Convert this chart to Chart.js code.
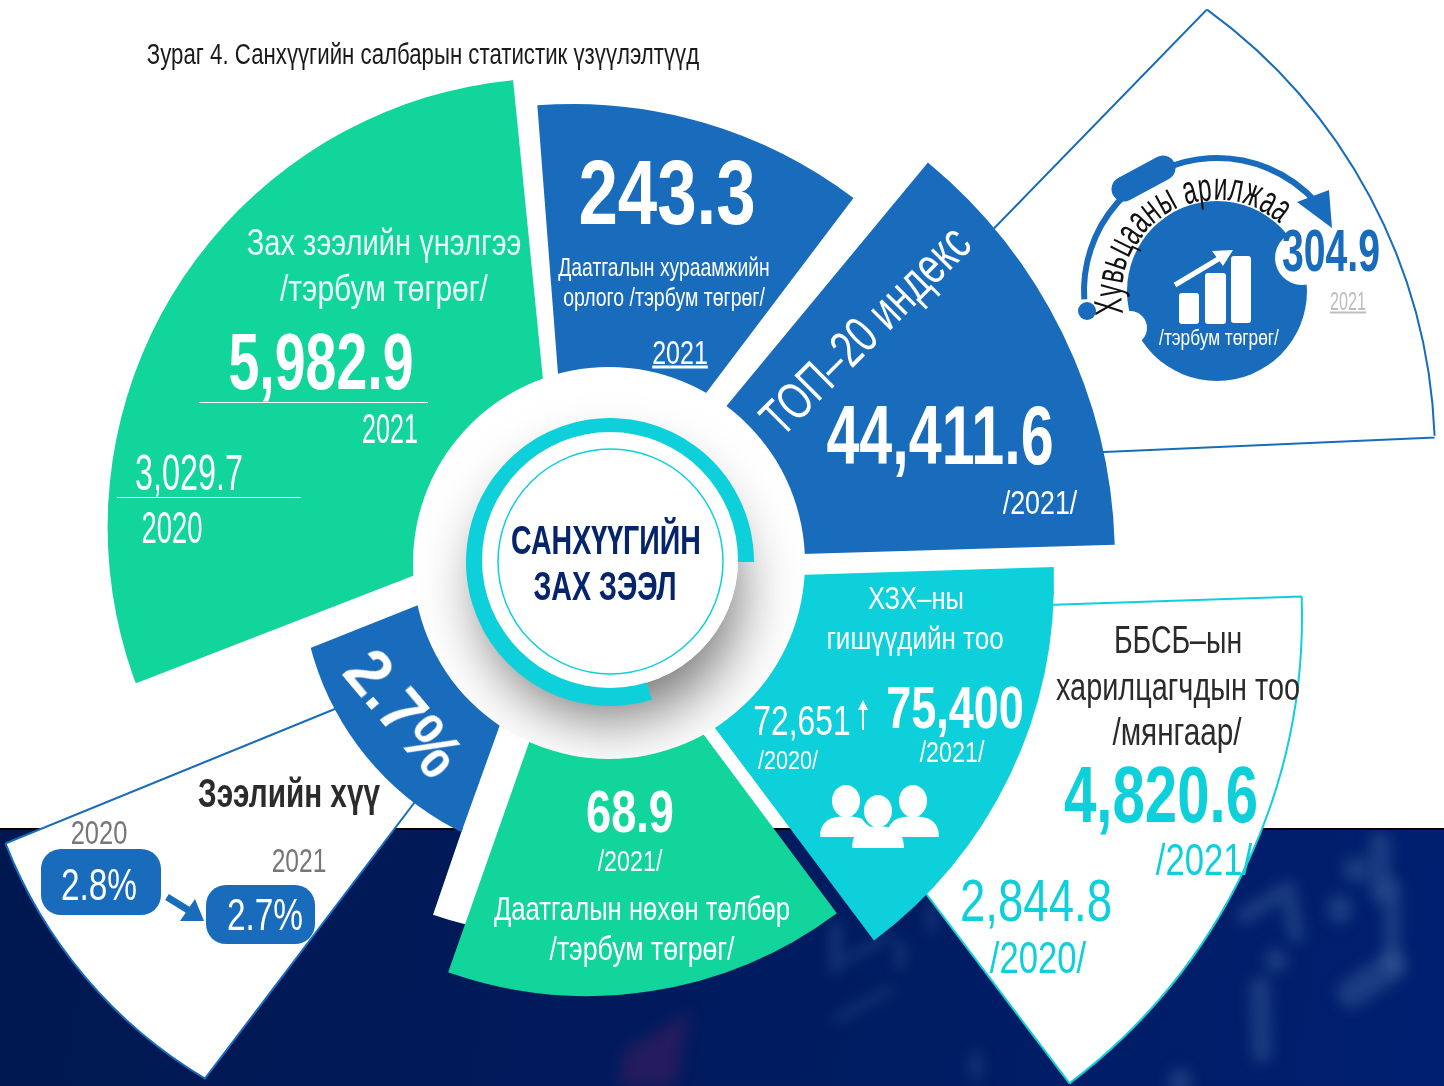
<!DOCTYPE html>
<html>
<head>
<meta charset="utf-8">
<script src="https://cdn.jsdelivr.net/npm/chart.js@4"></script>
<style>
  body { margin: 0; background: #fff; }
  #stage { position: relative; width: 1444px; height: 1086px; overflow: hidden; }
  #graphicsChart { position: absolute; left: 0; top: 0; }
  #labels span { position: absolute; white-space: nowrap; line-height: 1; }
</style>
</head>
<body>
<div id="stage">
  <canvas id="graphicsChart" width="1444" height="1086"></canvas>
  <div id="labels"></div>
</div>
<script>
// wedges, back to front. reach = radial value, start/sweep = degrees clockwise from north
const categories = ["gap", "loan rate", "trading", "NBFI clients", "market cap", "premium", "TOP-20", "members", "claims", "rate", "hub", "halo", "ring", "face", "trade disc", "bite a", "bite b"];
const wedgeReach = [392, 620, 760, 586, 480, 465, 516, 449, 418, 330, 196, 128, 144, 128, 90, 27, 17];
const wedgeStart = [160, 217.2, 44.2, 88.1, 248.8, 355.6, 39.6, 88.2, 143.3, 199.8, 0.001, 0.001, 163, 0.001, 0.001, 0.001, 0.001];
const wedgeSweep = [38.9, 30.6, 43.3, 54.8, 105.5, 41.5, 48.7, 55, 56.1, 48.5, 360, 360, 287, 360, 360, 360, 360];

const years = ["2020", "2021"];
const marketCap = ["3,029.7", "5,982.9"];
const premium = "243.3";
const top20 = "44,411.6";
const members = ["72,651", "75,400"];
const clients = ["2,844.8", "4,820.6"];
const claims = "68.9";
const loanRate = ["2.8%", "2.7%"];
const trading = "304.9";

const GREEN = "#11d59b", BLUE = "#196cbc", CYAN = "#0ed0da", NAVY = "#001b5e";

const wedgeLook = [
  { apex: [560, 544], fill: "#fff" },
  { apex: [553, 620], fill: "#fff", line: BLUE, trim: [447, 671, 474], rim: [120.6, 158.7] },
  { apex: [762, 467], fill: "#fff", line: BLUE, trim: [882, 457, 553], rim: [-54, -2.2] },
  { apex: [716, 616], fill: "#fff", line: CYAN },
  { apex: [557, 520], fill: GREEN, trim: [556.6, 527, 449] },
  { apex: [573, 569], fill: BLUE },
  { apex: [599, 560], fill: BLUE },
  { apex: [605, 581], fill: CYAN },
  { apex: [587, 578], fill: GREEN },
  { apex: [564, 547], fill: BLUE, trim: [589, 574, 288] },
  { apex: [609, 563], fill: "#fff" },
  { apex: [610, 560], fill: "#fff", shadow: true },
  { apex: [610, 562], fill: CYAN },
  { apex: [610, 560], fill: "#fff" },
  { apex: [1217, 291], fill: BLUE },
  { apex: [1302, 258], fill: "#fff" },
  { apex: [1130, 328], fill: "#fff" },
];

const wedgeHooks = {
  id: "wedgeHooks",
  beforeDatasetDraw(chart, args) {
    const look = wedgeLook[args.index], ctx = chart.ctx;
    ctx.save();
    if (look.trim) {
      ctx.beginPath();
      ctx.arc(look.trim[0], look.trim[1], look.trim[2], 0, Math.PI * 2);
      ctx.clip();
    }
    if (look.shadow) {
      ctx.beginPath();
      ctx.arc(609, 563, 196, 0, Math.PI * 2);
      ctx.clip();
      ctx.shadowColor = "rgba(0,0,0,0.55)";
      ctx.shadowBlur = 60;
      ctx.shadowOffsetY = 30;
    }
    ctx.translate(look.apex[0] - 722, look.apex[1] - 543);
  },
  afterDatasetDraw(chart, args) {
    const look = wedgeLook[args.index], ctx = chart.ctx;
    ctx.restore();
    if (look.rim) {
      ctx.strokeStyle = look.line;
      ctx.lineWidth = 2;
      ctx.beginPath();
      ctx.arc(look.trim[0], look.trim[1], look.trim[2], look.rim[0] * Math.PI / 180, look.rim[1] * Math.PI / 180);
      ctx.stroke();
    }
  },
};

// faint out of focus price chart behind the lower band: [width, x1, y1, x2, y2, ...]
const haze = [
  [22, 1380, 842, 1380, 893], [26, 1356, 869, 1356, 870], [24, 1340, 906, 1340, 912],
  [16, 1244, 916, 1288, 889, 1296, 936], [22, 1276, 959, 1276, 962], [20, 1260, 986, 1262, 1053],
  [18, 1392, 886, 1392, 966], [30, 1392, 966, 1352, 993], [22, 1180, 1079, 1180, 1086],
  [10, 836, 926, 836, 969], [7, 848, 959, 888, 936], [8, 900, 943, 900, 966],
  [6, 836, 1019, 892, 989], [8, 932, 906, 932, 929], [9, 976, 1056, 976, 1076],
];

const backdrop = {
  id: "backdrop",
  beforeDatasetsDraw(chart) {
    const ctx = chart.ctx;
    ctx.save();
    ctx.fillStyle = "#fff";
    ctx.fillRect(0, 0, 1444, 1086);
    const band = ctx.createLinearGradient(0, 830, 1444, 1086);
    band.addColorStop(0, "#001850");
    band.addColorStop(0.5, NAVY);
    band.addColorStop(1, "#001f70");
    ctx.fillStyle = band;
    ctx.fillRect(0, 829, 1444, 257);
    ctx.fillStyle = "#000";
    ctx.fillRect(0, 828, 1444, 2);
    ctx.beginPath();
    ctx.rect(0, 830, 1444, 256);
    ctx.clip();
    ctx.filter = "blur(7px)";
    ctx.strokeStyle = "rgba(75,115,165,0.36)";
    ctx.lineCap = "round";
    ctx.lineJoin = "round";
    haze.forEach(h => {
      ctx.lineWidth = h[0];
      ctx.beginPath();
      ctx.moveTo(h[1], h[2]);
      for (let i = 3; i < h.length; i += 2) ctx.lineTo(h[i], h[i + 1]);
      ctx.stroke();
    });
    ctx.fillStyle = "rgba(42,28,94,0.85)";
    ctx.beginPath();
    ctx.moveTo(690, 1012);
    ctx.lineTo(675, 1086);
    ctx.lineTo(618, 1086);
    ctx.lineTo(625, 1050);
    ctx.closePath();
    ctx.fill();
    ctx.restore();
  },
};

const decor = {
  id: "decor",
  afterDatasetsDraw(chart) {
    const ctx = chart.ctx;
    ctx.save();
    // rules under the market cap figures
    ctx.strokeStyle = "#fff";
    ctx.lineWidth = 1;
    ctx.beginPath();
    ctx.moveTo(199, 402.5); ctx.lineTo(428, 402.5);
    ctx.moveTo(117, 497.5); ctx.lineTo(301, 497.5);
    ctx.stroke();

    // thin circle round the title
    ctx.strokeStyle = CYAN;
    ctx.lineWidth = 1.5;
    ctx.beginPath();
    ctx.arc(610.5, 561.5, 112.5, 0, Math.PI * 2);
    ctx.stroke();

    // trading arc, dot, pill, arrow head
    ctx.strokeStyle = BLUE;
    ctx.fillStyle = BLUE;
    ctx.lineWidth = 6;
    ctx.beginPath();
    ctx.arc(1217, 291, 133, Math.PI * 0.98, Math.PI * 1.77);
    ctx.stroke();
    ctx.beginPath();
    ctx.arc(1087, 311, 9, 0, Math.PI * 2);
    ctx.fill();
    ctx.lineCap = "round";
    ctx.lineWidth = 25;
    ctx.beginPath();
    ctx.moveTo(1124, 189); ctx.lineTo(1163, 168);
    ctx.stroke();
    ctx.lineCap = "butt";
    ctx.beginPath();
    ctx.moveTo(1297, 202); ctx.lineTo(1329, 190); ctx.lineTo(1332, 228);
    ctx.closePath();
    ctx.fill();

    // bars icon
    ctx.fillStyle = "#fff";
    [[1179, 293, 20, 31], [1205, 273, 21, 51], [1231, 256, 20, 67]].forEach(b => {
      ctx.beginPath();
      ctx.roundRect(b[0], b[1], b[2], b[3], 3);
      ctx.fill();
    });
    ctx.strokeStyle = "#fff";
    ctx.lineWidth = 5;
    ctx.beginPath();
    ctx.moveTo(1175, 285); ctx.lineTo(1225, 255);
    ctx.stroke();
    ctx.beginPath();
    ctx.moveTo(1233, 250); ctx.lineTo(1212, 251); ctx.lineTo(1223, 266);
    ctx.closePath();
    ctx.fill();

    // rate pills and arrow
    ctx.fillStyle = BLUE;
    ctx.beginPath();
    ctx.roundRect(41, 849, 120, 66, 20);
    ctx.fill();
    ctx.beginPath();
    ctx.roundRect(206, 885, 109, 59, 20);
    ctx.fill();
    ctx.strokeStyle = BLUE;
    ctx.lineWidth = 7;
    ctx.beginPath();
    ctx.moveTo(167, 897); ctx.lineTo(193, 913);
    ctx.stroke();
    ctx.beginPath();
    ctx.moveTo(204, 921); ctx.lineTo(180, 921); ctx.lineTo(195, 899);
    ctx.closePath();
    ctx.fill();

    // members arrow
    ctx.fillStyle = "#fff";
    ctx.fillRect(862, 708, 2, 22);
    ctx.beginPath();
    ctx.moveTo(863, 700); ctx.lineTo(858, 710); ctx.lineTo(868, 710);
    ctx.closePath();
    ctx.fill();

    // people icon
    const person = (x, y, r, w, h) => {
      ctx.fillStyle = "#fff";
      ctx.beginPath();
      ctx.ellipse(x, y, r, r * 1.15, 0, 0, Math.PI * 2);
      ctx.fill();
      ctx.beginPath();
      ctx.moveTo(x - w, y + h);
      ctx.quadraticCurveTo(x - w, y + r * 1.2, x - r * 0.4, y + r * 1.1);
      ctx.lineTo(x + r * 0.4, y + r * 1.1);
      ctx.quadraticCurveTo(x + w, y + r * 1.2, x + w, y + h);
      ctx.closePath();
      ctx.fill();
    };
    person(846, 801, 14, 26, 36);
    person(913, 801, 14, 26, 36);
    ctx.strokeStyle = CYAN;
    ctx.lineWidth = 3;
    ctx.beginPath();
    ctx.arc(878, 811, 16, 0, Math.PI * 2);
    ctx.stroke();
    person(878, 811, 14, 26, 37);
    ctx.restore();
  },
};

new Chart(document.getElementById("graphicsChart"), {
  type: "polarArea",
  data: {
    labels: ["lead", "wedge"],
    datasets: categories.map((name, i) => ({
      label: name,
      data: [0, wedgeReach[i]],
      angle: [wedgeStart[i], wedgeSweep[i]],
      backgroundColor: wedgeLook[i].fill,
      borderColor: wedgeLook[i].line || wedgeLook[i].fill,
      borderWidth: [0, wedgeLook[i].line ? 2 : 0],
      order: categories.length - i,
      clip: false,
    })),
  },
  plugins: [backdrop, wedgeHooks, decor],
  options: {
    responsive: false,
    animation: false,
    layout: { padding: 0 },
    scales: {
      r: { display: false, min: 0, max: 543, ticks: { display: false }, grid: { display: false } },
    },
    plugins: { legend: { display: false }, tooltip: { enabled: false }, title: { display: false } },
  },
});

// text, centre x, centre y, font size, width, colour, bold, rotation
const WHITE = "#fff", INK = "#2b2b2b", GREY = "#777";
const texts = [
  ["Зураг 4. Санхүүгийн салбарын статистик үзүүлэлтүүд", 423, 54, 30, 552, "#1a1a1a"],
  ["Зах зээлийн үнэлгээ", 384, 243, 36, 275, "#e8fbf5"],
  ["/тэрбум төгрөг/", 384, 289, 36, 208, "#e8fbf5"],
  [marketCap[1], 321, 362, 80, 185, WHITE, 1],
  [years[1], 390, 428, 43, 56, WHITE],
  [marketCap[0], 189, 473, 50, 108, WHITE],
  [years[0], 172, 528, 44, 61, WHITE],
  [premium, 667, 193, 90, 177, WHITE, 1],
  ["Даатгалын хураамжийн", 664, 267, 25, 212, WHITE],
  ["орлого /тэрбум төгрөг/", 664, 297, 25, 202, WHITE],
  [years[1], 680, 352, 34, 56, WHITE, 0, 0, 1],
  ["ТОП–20 индекс", 865, 330, 52, 272, WHITE, 0, -45],
  [top20, 940, 435, 84, 227, WHITE, 1],
  ["/2021/", 1040, 502, 34, 75, WHITE],
  ["ХЗХ–ны", 916, 598, 32, 96, WHITE],
  ["гишүүдийн тоо", 915, 639, 31, 177, WHITE],
  [members[0], 802, 721, 42, 97, WHITE],
  [members[1], 955, 707, 60, 138, WHITE, 1],
  ["/2020/", 788, 760, 26, 60, WHITE],
  ["/2021/", 952, 752, 29, 65, WHITE],
  ["ББСБ–ын", 1178, 640, 38, 128, INK],
  ["харилцагчдын тоо", 1178, 687, 38, 244, INK],
  ["/мянгаар/", 1177, 732, 38, 129, INK],
  [clients[1], 1161, 795, 80, 194, CYAN, 1],
  ["/2021/", 1204, 860, 44, 96, CYAN],
  [clients[0], 1036, 900, 60, 152, CYAN],
  ["/2020/", 1038, 958, 44, 96, CYAN],
  [claims, 630, 811, 60, 88, WHITE, 1],
  ["/2021/", 630, 861, 29, 65, WHITE],
  ["Даатгалын нөхөн төлбөр", 642, 908, 34, 296, WHITE],
  ["/тэрбум төгрөг/", 642, 948, 34, 185, WHITE],
  [loanRate[1], 404, 713, 66, 142, WHITE, 1, 50],
  ["Зээлийн хүү", 289, 793, 40, 182, INK, 1],
  [years[0], 99, 832, 34, 57, GREY],
  [years[1], 299, 860, 34, 55, GREY],
  [loanRate[0], 99, 885, 44, 76, WHITE],
  [loanRate[1], 265, 915, 44, 76, WHITE],
  ["САНХҮҮГИЙН", 606, 540, 40, 190, "#05246b", 1],
  ["ЗАХ ЗЭЭЛ", 605, 586, 40, 143, "#05246b", 1],
  ["/тэрбум төгрөг/", 1219, 338, 22, 120, WHITE],
  [trading, 1331, 250, 60, 98, BLUE, 1],
  [years[1], 1348, 301, 26, 36, "#bdbdbd", 0, 0, 1],
];

const holder = document.getElementById("labels");
const FONT = "'Liberation Sans Narrow', 'Liberation Sans', sans-serif";
texts.forEach(([text, x, y, size, width, color, bold, rot, under]) => {
  const s = document.createElement("span");
  s.textContent = text;
  s.style.cssText = `left:${x}px;top:${y}px;font:${bold ? 700 : 400} ${size}px ${FONT};color:${color};` + (under ? "text-decoration:underline;" : "");
  holder.appendChild(s);
  const k = width / s.offsetWidth;
  s.style.transform = `translate(-50%,-50%) rotate(${rot || 0}deg) scaleX(${k})`;
});

// curved heading above the trading disc
const arcText = "Хувьцааны арилжаа";
const arcSize = 40, arcRadius = 93, arcFrom = -101, arcTo = 41;
const measure = document.createElement("canvas").getContext("2d");
measure.font = `400 ${arcSize}px ${FONT}`;
const total = measure.measureText(arcText).width;
const span = (arcTo - arcFrom) * Math.PI / 180 * arcRadius;
let run = 0;
[...arcText].forEach(ch => {
  const w = measure.measureText(ch).width;
  const deg = arcFrom + (run + w / 2) / total * (arcTo - arcFrom);
  run += w;
  const rad = deg * Math.PI / 180;
  const s = document.createElement("span");
  s.textContent = ch;
  const px = 1217 + arcRadius * Math.sin(rad), py = 291 - arcRadius * Math.cos(rad);
  s.style.cssText = `left:${px - w / 2}px;top:${py - arcSize * 0.85}px;font:400 ${arcSize}px ${FONT};color:#111;white-space:pre;transform-origin:50% 85%;transform:rotate(${deg}deg) scaleX(${span / total});`;
  holder.appendChild(s);
});
</script>
</body>
</html>
